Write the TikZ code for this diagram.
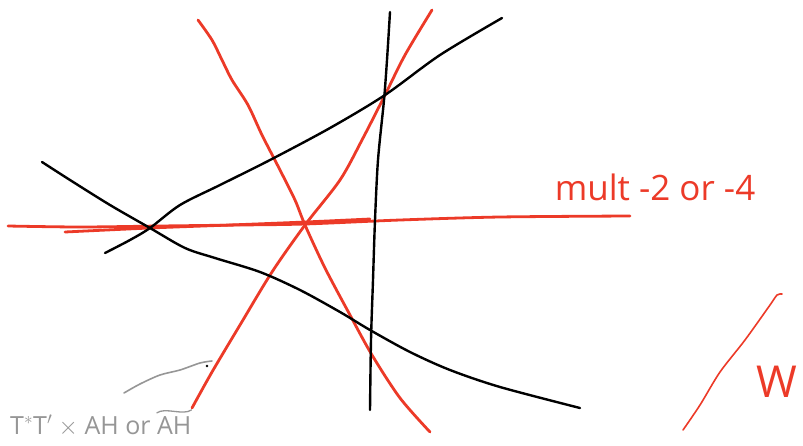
\documentclass[tikz,border=0pt]{standalone}
\usepackage{fontspec}
\setmainfont{Open Sans}
\usetikzlibrary{positioning}
\definecolor{penred}{RGB}{236,58,40}
\definecolor{pengray}{RGB}{150,150,150}
\begin{document}
\begin{tikzpicture}[
    x=1pt, y=-1pt,
    redstroke/.style={draw=penred, line width=2.8pt, line cap=round, line join=round},
    blackstroke/.style={draw=black, line width=2.4pt, line cap=round, line join=round},
    graystroke/.style={draw=pengray, line width=1.6pt, line cap=round},
    graytext/.style={text=pengray, font=\fontsize{25}{30}\selectfont, inner sep=0pt}
]
\useasboundingbox (0,0) rectangle (803,445);

% --- rote Geraden ---
\draw[redstroke] plot[smooth] coordinates {(198,20) (212,40) (222,60) (232,80) (248,105) (262,135) (280,170) (295,200) (305,225) (325,268) (350,315) (372,355) (400,398) (430,432)};
\draw[redstroke] plot[smooth] coordinates {(432,10) (405,55) (385,95) (362,140) (340,180) (305,225) (272,272) (240,325) (212,372) (192,408)};
\draw[redstroke] plot[smooth] coordinates {(8,226) (80,227) (160,226) (240,225) (305,224) (400,220) (500,217) (630,216)};
\draw[redstroke] plot[smooth] coordinates {(65,232) (150,228) (230,225) (305,222) (370,219)};

% --- schwarze Geraden ---
\draw[blackstroke] plot[smooth] coordinates {(390,12) (387,60) (384,100) (378,160) (375,220) (373,280) (371,340) (370,410)};
\draw[blackstroke] plot[smooth] coordinates {(105,253) (130,240) (150,228) (180,205) (220,185) (270,160) (330,128) (385,95) (440,55) (502,18)};
\draw[blackstroke] plot[smooth] coordinates {(42,162) (70,180) (110,205) (150,228) (185,248) (215,258) (260,272) (300,290) (340,312) (370,330) (410,352) (450,370) (500,387) (580,408)};

% --- rechte Skizze ---
\draw[redstroke, line width=1.6pt] plot[smooth] coordinates {(683,430) (700,405) (720,372) (745,340) (770,305) (777,295) (782,294)};

% --- graue Notiz ---
\draw[graystroke] plot[smooth] coordinates {(124,393) (140,384) (160,375) (180,370) (200,363) (212,361)};
\fill (207,366) circle (1.3pt);

% --- Beschriftungen ---
\node[graytext, anchor=base west] (prodlabel) at (10,434) {T$^{*}$T$'$ $\times$ AH or};
\node[graytext, right=6pt of prodlabel.base east, anchor=base west] (tildelabel) {AH};
\draw[graystroke, line width=1.3pt] ([yshift=3pt]tildelabel.north west) .. controls ([xshift=8pt,yshift=9pt]tildelabel.north west) and ([xshift=-8pt,yshift=0pt]tildelabel.north east) .. ([yshift=6pt]tildelabel.north east);
\node[text=penred, font=\fontsize{35}{40}\selectfont] (multlabel) at (655,187) {mult -2 or -4};
\node[text=penred, font=\fontsize{44}{50}\selectfont, anchor=west, inner sep=0pt] (wlabel) at (756,382) {W};
\end{tikzpicture}
\end{document}
